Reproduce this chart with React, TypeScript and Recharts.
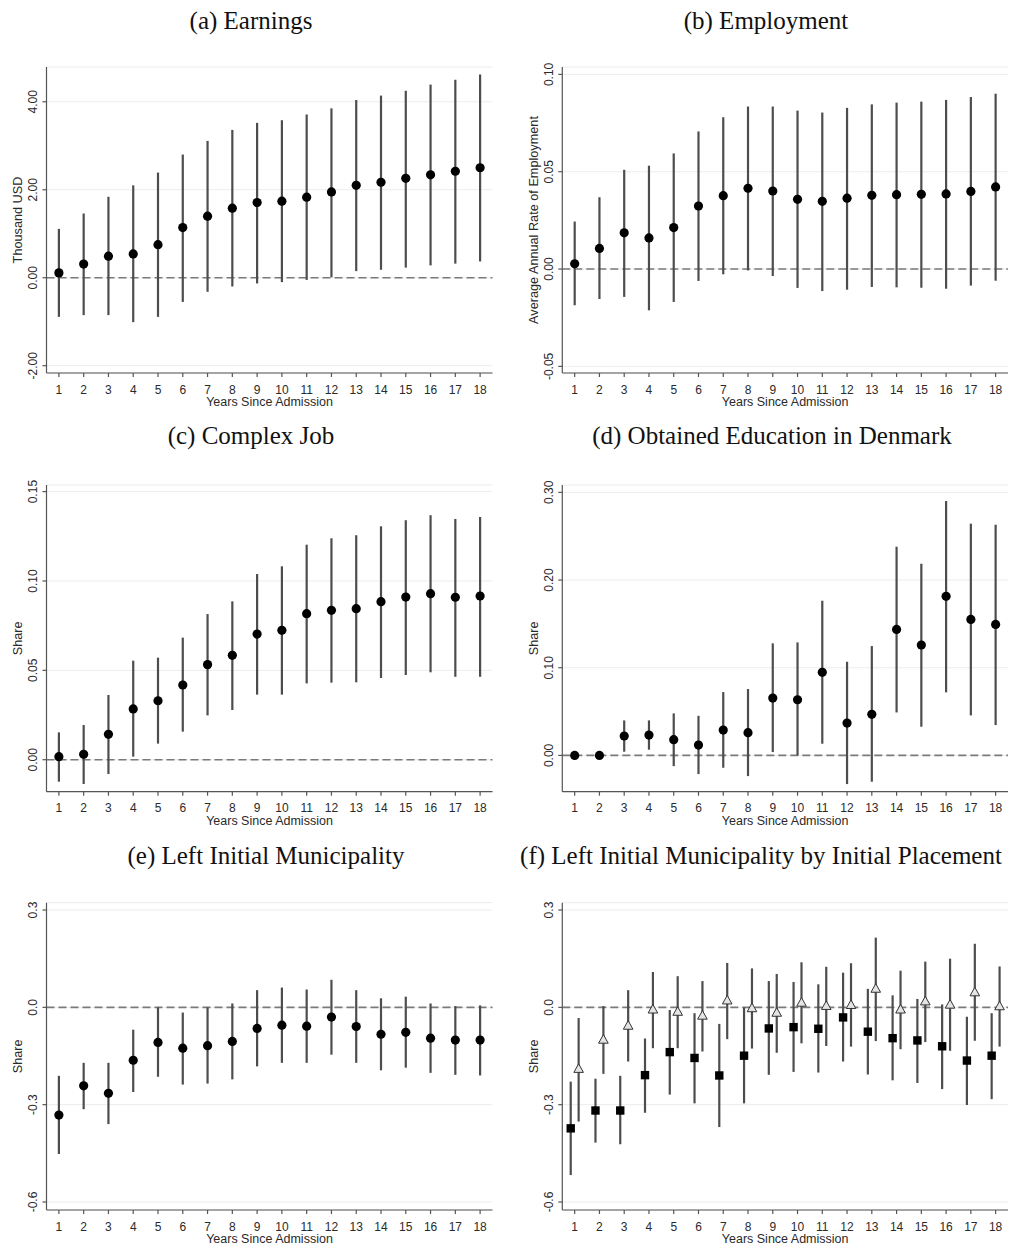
import React from 'react';
import { ComposedChart, Scatter, XAxis, YAxis, CartesianGrid, ReferenceLine, ErrorBar } from 'recharts';

const years = [1, 2, 3, 4, 5, 6, 7, 8, 9, 10, 11, 12, 13, 14, 15, 16, 17, 18];

// (a) Earnings
const earnEst = [0.11, 0.31, 0.49, 0.54, 0.75, 1.14, 1.40, 1.58, 1.71, 1.74, 1.83, 1.95, 2.10, 2.17, 2.26, 2.34, 2.42, 2.50];
const earnLo = [-0.89, -0.85, -0.85, -1.01, -0.89, -0.55, -0.32, -0.20, -0.13, -0.10, -0.05, 0.01, 0.15, 0.18, 0.23, 0.28, 0.32, 0.37];
const earnHi = [1.11, 1.46, 1.84, 2.10, 2.39, 2.80, 3.11, 3.36, 3.52, 3.58, 3.71, 3.85, 4.04, 4.14, 4.25, 4.39, 4.50, 4.62];
const earnTicks = [-2, 0, 2, 4];

// (b) Employment
const empEst = [0.0027, 0.0106, 0.0186, 0.0160, 0.0213, 0.0324, 0.0377, 0.0415, 0.0401, 0.0358, 0.0348, 0.0364, 0.0379, 0.0382, 0.0384, 0.0386, 0.0399, 0.0422];
const empLo = [-0.0186, -0.0154, -0.0143, -0.0212, -0.0169, -0.0061, -0.0027, -0.0007, -0.0036, -0.0097, -0.0113, -0.0106, -0.0092, -0.0094, -0.0096, -0.0101, -0.0085, -0.0060];
const empHi = [0.0244, 0.0369, 0.0510, 0.0531, 0.0594, 0.0707, 0.0780, 0.0835, 0.0835, 0.0814, 0.0804, 0.0828, 0.0846, 0.0855, 0.0860, 0.0869, 0.0884, 0.0901];
const empTicks = [-0.05, 0, 0.05, 0.1];

// (c) Complex Job
const jobEst = [0.0017, 0.0030, 0.0142, 0.0284, 0.0330, 0.0418, 0.0532, 0.0584, 0.0703, 0.0724, 0.0817, 0.0836, 0.0845, 0.0884, 0.0910, 0.0929, 0.0909, 0.0916];
const jobLo = [-0.0123, -0.0136, -0.0080, 0.0017, 0.0090, 0.0157, 0.0248, 0.0278, 0.0364, 0.0364, 0.0427, 0.0431, 0.0433, 0.0457, 0.0474, 0.0489, 0.0464, 0.0464];
const jobHi = [0.0153, 0.0194, 0.0362, 0.0554, 0.0571, 0.0683, 0.0815, 0.0886, 0.1039, 0.1082, 0.1203, 0.1239, 0.1256, 0.1306, 0.1340, 0.1368, 0.1347, 0.1358];
const jobTicks = [0, 0.05, 0.1, 0.15];

// (d) Obtained Education in Denmark
const eduEst = [0, 0, 0.0221, 0.0232, 0.0179, 0.0118, 0.0289, 0.0259, 0.0654, 0.0635, 0.0947, 0.0369, 0.0468, 0.1437, 0.1259, 0.1814, 0.1551, 0.1494];
const eduLo = [0, 0, 0.0042, 0.0065, -0.0122, -0.0213, -0.0141, -0.0236, 0.0038, 0.0, 0.0133, -0.0327, -0.0300, 0.0490, 0.0327, 0.0719, 0.0456, 0.0346];
const eduHi = [0, 0, 0.0399, 0.0399, 0.0479, 0.0452, 0.0722, 0.0757, 0.1278, 0.1289, 0.1764, 0.1068, 0.1247, 0.2380, 0.2186, 0.2901, 0.2643, 0.2631];
const eduTicks = [0, 0.1, 0.2, 0.3];

// (e) Left Initial Municipality
const leftEst = [-0.332, -0.242, -0.265, -0.163, -0.108, -0.126, -0.118, -0.105, -0.065, -0.055, -0.058, -0.030, -0.059, -0.083, -0.077, -0.095, -0.101, -0.101];
const leftLo = [-0.452, -0.314, -0.360, -0.261, -0.214, -0.238, -0.235, -0.222, -0.182, -0.171, -0.171, -0.146, -0.171, -0.194, -0.186, -0.202, -0.208, -0.210];
const leftHi = [-0.211, -0.171, -0.171, -0.069, 0.0, -0.016, 0.0, 0.012, 0.053, 0.061, 0.055, 0.085, 0.053, 0.028, 0.033, 0.012, 0.004, 0.006];
const leftTicks = [-0.6, -0.3, 0, 0.3];

// (f) by initial placement: squares and triangles
const sqEst = [-0.373, -0.318, -0.318, -0.209, -0.138, -0.156, -0.210, -0.149, -0.065, -0.061, -0.066, -0.031, -0.075, -0.095, -0.102, -0.120, -0.164, -0.149];
const sqLo = [-0.517, -0.417, -0.422, -0.325, -0.269, -0.296, -0.369, -0.296, -0.208, -0.199, -0.201, -0.167, -0.207, -0.225, -0.233, -0.252, -0.301, -0.283];
const sqHi = [-0.229, -0.220, -0.211, -0.096, -0.008, -0.018, -0.051, 0.0, 0.081, 0.078, 0.071, 0.107, 0.057, 0.037, 0.026, 0.009, -0.029, -0.018];
const triEst = [-0.190, -0.100, -0.057, -0.007, -0.014, -0.026, 0.021, -0.003, -0.017, 0.014, 0.004, 0.007, 0.057, -0.007, 0.018, 0.008, 0.046, 0.003];
const triLo = [-0.352, -0.205, -0.167, -0.126, -0.126, -0.136, -0.098, -0.127, -0.140, -0.111, -0.119, -0.121, -0.104, -0.129, -0.107, -0.134, -0.103, -0.121];
const triHi = [-0.033, 0.004, 0.053, 0.109, 0.096, 0.081, 0.137, 0.120, 0.103, 0.139, 0.125, 0.136, 0.215, 0.113, 0.141, 0.150, 0.196, 0.126];
const dodge = 0.16;

const SANS = '"Liberation Sans", Arial, Helvetica, sans-serif';
const SERIF = '"Liberation Serif", "Times New Roman", serif';
const TXT = '#2a2a2a';
const CI = '#4d4d4d';

function build(xs: number[], est: number[], lo: number[], hi: number[], shift = 0) {
  return xs.map((x, i) => ({ x: x + shift, y: est[i], err: [est[i] - lo[i], hi[i] - est[i]] }));
}

const Dot = (p: any) => <circle cx={p.cx} cy={p.cy} r={4.6} fill="#000" />;
const Sq = (p: any) => <rect x={p.cx - 4.2} y={p.cy - 4.2} width={8.4} height={8.4} fill="#000" />;
const Tri = (p: any) => (
  <polygon
    points={`${p.cx},${p.cy - 5.2} ${p.cx - 4.8},${p.cy + 3.4} ${p.cx + 4.8},${p.cy + 3.4}`}
    fill="#e4e4e4"
    stroke="#333"
    strokeWidth={1}
  />
);

type Series = { data: any[]; shape: any };
type Cfg = {
  title: string;
  titleX: number;
  titleY: number;
  ylabel: string;
  fx: number; fy: number; fw: number; fh: number;
  plot: { left: number; right: number; top: number; bottom: number };
  domain: [number, number];
  ticks: number[];
  digits: number;
  series: Series[];
};

const colL = { left: 46.5, right: 492.5 };
const colR = { left: 562.3, right: 1008 };
const rowT = { top: 67, bottom: 373 };
const rowM = { top: 485, bottom: 791.7 };
const rowB = { top: 902.7, bottom: 1210 };

const panels: Cfg[] = [
  {
    title: '(a) Earnings', titleX: 251, titleY: 29, ylabel: 'Thousand USD',
    fx: 0, fy: 40, fw: 505, fh: 375, plot: { ...colL, ...rowT },
    domain: [-2.166, 4.79], ticks: earnTicks, digits: 2,
    series: [{ data: build(years, earnEst, earnLo, earnHi), shape: Dot }],
  },
  {
    title: '(b) Employment', titleX: 766, titleY: 29, ylabel: 'Average Annual Rate of Employment',
    fx: 505, fy: 40, fw: 505, fh: 375, plot: { ...colR, ...rowT },
    domain: [-0.0534, 0.1038], ticks: empTicks, digits: 2,
    series: [{ data: build(years, empEst, empLo, empHi), shape: Dot }],
  },
  {
    title: '(c) Complex Job', titleX: 251, titleY: 444, ylabel: 'Share',
    fx: 0, fy: 455, fw: 505, fh: 380, plot: { ...colL, ...rowM },
    domain: [-0.0179, 0.1537], ticks: jobTicks, digits: 2,
    series: [{ data: build(years, jobEst, jobLo, jobHi), shape: Dot }],
  },
  {
    title: '(d) Obtained Education in Denmark', titleX: 772, titleY: 444, ylabel: 'Share',
    fx: 505, fy: 455, fw: 505, fh: 380, plot: { ...colR, ...rowM },
    domain: [-0.0414, 0.3084], ticks: eduTicks, digits: 2,
    series: [{ data: build(years, eduEst, eduLo, eduHi), shape: Dot }],
  },
  {
    title: '(e) Left Initial Municipality', titleX: 266, titleY: 864, ylabel: 'Share',
    fx: 0, fy: 875, fw: 505, fh: 371, plot: { ...colL, ...rowB },
    domain: [-0.6247, 0.3226], ticks: leftTicks, digits: 1,
    series: [{ data: build(years, leftEst, leftLo, leftHi), shape: Dot }],
  },
  {
    title: '(f) Left Initial Municipality by Initial Placement', titleX: 761, titleY: 864, ylabel: 'Share',
    fx: 505, fy: 875, fw: 505, fh: 371, plot: { ...colR, ...rowB },
    domain: [-0.6247, 0.3226], ticks: leftTicks, digits: 1,
    series: [
      { data: build(years, sqEst, sqLo, sqHi, -dodge), shape: Sq },
      { data: build(years, triEst, triLo, triHi, dodge), shape: Tri },
    ],
  },
];

function makeYTick(digits: number) {
  return (props: any) => {
    const { x, y, payload } = props;
    const bx = x - 3.5;
    return (
      <text x={bx} y={y} transform={`rotate(-90 ${bx} ${y})`} textAnchor="middle" fontSize={12} fontFamily={SANS} fill={TXT}>
        {Number(payload.value).toFixed(digits)}
      </text>
    );
  };
}

const XTick = (props: any) => {
  const { x, y, payload } = props;
  return (
    <text x={x} y={y + 8.6} textAnchor="middle" fontSize={12} fontFamily={SANS} fill={TXT}>
      {payload.value}
    </text>
  );
};

function Panel({ c }: { c: Cfg }) {
  const margin = { top: c.plot.top - c.fy, right: c.fx + c.fw - c.plot.right, left: 0, bottom: 0 };
  const yw = c.plot.left - c.fx;
  const xh = c.fy + c.fh - c.plot.bottom;
  return (
    <div style={{ position: 'absolute', left: c.fx, top: c.fy, width: c.fw, height: c.fh }}>
      <ComposedChart width={c.fw} height={c.fh} margin={margin}>
        <CartesianGrid horizontal vertical={false} stroke="#ececec" strokeWidth={1} />
        <XAxis
          type="number"
          dataKey="x"
          domain={[0.5, 18.5]}
          ticks={years}
          interval={0}
          allowDataOverflow
          height={xh}
          tickSize={4}
          tickMargin={8}
          tick={XTick}
          axisLine={{ stroke: '#555', strokeWidth: 1.2 }}
          tickLine={{ stroke: '#555', strokeWidth: 1.2 }}
        />
        <YAxis
          type="number"
          dataKey="y"
          domain={c.domain}
          ticks={c.ticks}
          interval={0}
          allowDataOverflow
          width={yw}
          tickSize={4}
          tickMargin={2}
          tick={makeYTick(c.digits)}
          axisLine={{ stroke: '#555', strokeWidth: 1.2 }}
          tickLine={{ stroke: '#555', strokeWidth: 1.2 }}
        />
        <ReferenceLine y={0} stroke="#7a7a7a" strokeWidth={1.6} strokeDasharray="8 4" />
        {c.series.map((s, i) => (
          <Scatter key={i} data={s.data} shape={s.shape} isAnimationActive={false}>
            <ErrorBar dataKey="err" direction="y" width={0} stroke={CI} strokeWidth={2.2} isAnimationActive={false} />
          </Scatter>
        ))}
      </ComposedChart>
    </div>
  );
}

export default function App() {
  return (
    <div style={{ position: 'absolute', left: 0, top: 0, width: 1010, height: 1246, background: '#fff', overflow: 'hidden' }}>
      {panels.map((c, i) => (
        <Panel key={i} c={c} />
      ))}
      <svg width={1010} height={1246} style={{ position: 'absolute', left: 0, top: 0, pointerEvents: 'none' }}>
        {panels.map((c, i) => {
          const cy = (c.plot.top + c.plot.bottom) / 2;
          const lx = c.plot.left - 24.5;
          const cx = (c.plot.left + c.plot.right) / 2;
          return (
            <g key={i}>
              <text x={c.titleX} y={c.titleY} textAnchor="middle" fontSize={25} fontFamily={SERIF} fill="#111">
                {c.title}
              </text>
              <text x={lx} y={cy} transform={`rotate(-90 ${lx} ${cy})`} textAnchor="middle" fontSize={12.7} fontFamily={SANS} fill={TXT}>
                {c.ylabel}
              </text>
              <text x={cx} y={c.plot.bottom + 33} textAnchor="middle" fontSize={12.5} fontFamily={SANS} fill={TXT}>
                Years Since Admission
              </text>
            </g>
          );
        })}
      </svg>
    </div>
  );
}
